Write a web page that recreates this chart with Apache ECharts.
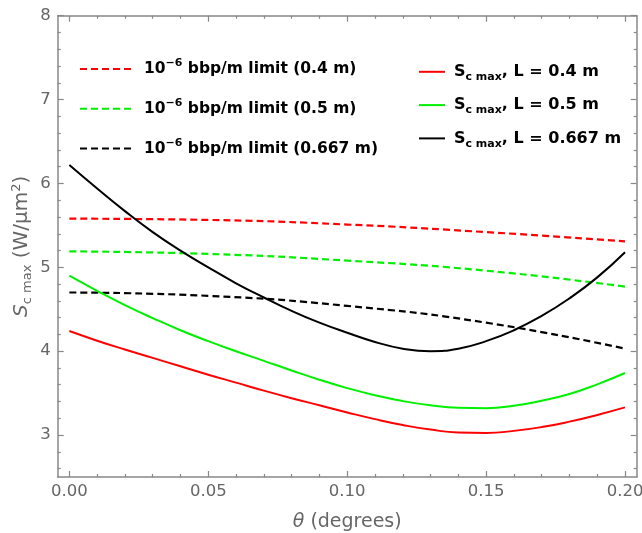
<!DOCTYPE html>
<html><head><meta charset="utf-8">
<script src="https://cdn.jsdelivr.net/npm/echarts@6/dist/echarts.min.js"></script>
<style>html,body{margin:0;padding:0;background:#fff}#c{width:642px;height:533px}</style>
</head><body><div id="c"></div>
<script>
// ---- tick labels ----
const xMajorTicks = [0, 0.05, 0.10, 0.15, 0.20];
const xMinorTicks = [0.01,0.02,0.03,0.04,0.06,0.07,0.08,0.09,0.11,0.12,0.13,0.14,0.16,0.17,0.18,0.19];
const yMajorTicks = [3, 4, 5, 6, 7, 8];
const yMinorTicks = [2.6,2.8,3.2,3.4,3.6,3.8,4.2,4.4,4.6,4.8,5.2,5.4,5.6,5.8,6.2,6.4,6.6,6.8,7.2,7.4,7.6,7.8];

// ---- data: 1e-6 bbp/m limits (dashed) ----
const limTheta   = [0, 0.05, 0.10, 0.15, 0.20];
const lim04      = [5.58, 5.565, 5.51, 5.42, 5.31];
const lim05      = [5.19, 5.16, 5.08, 4.96, 4.77];
const lim0667    = [4.70, 4.66, 4.54, 4.34, 4.03];

// ---- data: Sc max (solid), theta every 0.01 degrees ----
const scTheta = [0, 0.01, 0.02, 0.03, 0.04, 0.05, 0.06, 0.07, 0.08, 0.09, 0.10,
                 0.11, 0.12, 0.13, 0.14, 0.15, 0.16, 0.17, 0.18, 0.19, 0.20];
const sc04   = [4.24, 4.125, 4.02, 3.92, 3.82, 3.72, 3.625, 3.53, 3.44, 3.355, 3.27,
                3.19, 3.12, 3.065, 3.03, 3.025, 3.05, 3.095, 3.16, 3.24, 3.33];
const sc05   = [4.90, 4.72, 4.55, 4.395, 4.25, 4.12, 4.00, 3.885, 3.77, 3.66, 3.56,
                3.475, 3.405, 3.355, 3.325, 3.32, 3.35, 3.41, 3.49, 3.605, 3.74];
const sc0667 = [6.22, 5.94, 5.67, 5.42, 5.20, 5.00, 4.81, 4.64, 4.48, 4.34, 4.22,
                4.11, 4.03, 4.00, 4.03, 4.12, 4.25, 4.42, 4.63, 4.88, 5.18];

const X_MIN = -0.0042, X_MAX = 0.2042, Y_MIN = 2.5, Y_MAX = 8;
const FONT = 'DejaVu Sans';
const AX = '#888', LBL = '#666';
const RED = '#ff0000', GREEN = '#00f000', BLACK = '#000000';

const pairs = (xs, ys) => xs.map((x, i) => [x, ys[i]]);

const legendLabels = {
  'lim04':   '{g|\u00a0}{b|10}{sup|\u22126}{b| bbp/m limit (0.4 m)}',
  'lim05':   '{g|\u00a0}{b|10}{sup|\u22126}{b| bbp/m limit (0.5 m)}',
  'lim0667': '{g|\u00a0}{b|10}{sup|\u22126}{b| bbp/m limit (0.667 m)}',
  'sc04':    '{h|\u00a0}{b|S}{sub|c max}{b|, L = 0.4 m}',
  'sc05':    '{h|\u00a0}{b|S}{sub|c max}{b|, L = 0.5 m}',
  'sc0667':  '{h|\u00a0}{b|S}{sub|c max}{b|, L = 0.667 m}'
};
function richFor(fs) {
  return {
    g:   {width: 7, lineHeight: 22, fontSize: fs},
    h:   {width: 4, lineHeight: 22, fontSize: fs},
    b:   {fontFamily: FONT, fontWeight: 'bold', fontSize: fs, color: '#000', lineHeight: 22},
    sup: {fontFamily: FONT, fontWeight: 'bold', fontSize: 11, color: '#000', lineHeight: 11, verticalAlign: 'top'},
    sub: {fontFamily: FONT, fontWeight: 'bold', fontSize: 11, color: '#000', lineHeight: 11, verticalAlign: 'bottom'}
  };
}

function xAx(pos, ticks, len, showLine, showLabel) {
  return {
    type: 'value', min: X_MIN, max: X_MAX, position: pos,
    axisLine: {show: showLine, onZero: false, lineStyle: {color: AX, width: 1.5}},
    axisTick: {show: true, inside: true, length: len, customValues: ticks, lineStyle: {color: AX, width: 1.2}},
    axisLabel: showLabel ? {show: true, customValues: xMajorTicks, formatter: v => v.toFixed(2),
      color: LBL, fontFamily: FONT, fontSize: 16.5, margin: 6} : {show: false},
    splitLine: {show: false}
  };
}
function yAx(pos, ticks, len, showLine, showLabel) {
  return {
    type: 'value', min: Y_MIN, max: Y_MAX, position: pos,
    axisLine: {show: showLine, onZero: false, lineStyle: {color: AX, width: 1.5}},
    axisTick: {show: true, inside: true, length: len, customValues: ticks, lineStyle: {color: AX, width: 1.2}},
    axisLabel: showLabel ? {show: true, customValues: yMajorTicks, formatter: v => String(Math.round(v)),
      color: LBL, fontFamily: FONT, fontSize: 16.5, margin: 7} : {show: false},
    splitLine: {show: false}
  };
}

const xMain = xAx('bottom', xMajorTicks, 6, true, true);
xMain.name = '{th|\u03b8}{n| (degrees)}';
xMain.nameLocation = 'middle';
xMain.nameGap = 36;
xMain.nameTextStyle = {rich: {
  th: {fontFamily: FONT, fontStyle: 'italic', fontSize: 19, color: LBL},
  n:  {fontFamily: FONT, fontSize: 19, color: LBL}
}};
const yMain = yAx('left', yMajorTicks, 6, true, true);
yMain.name = '{s|S}{sub|c max}{n| (W/\u03bcm}{sup|2}{n|)}';
yMain.nameLocation = 'middle';
yMain.nameGap = 24;
yMain.nameMoveOverlap = false;
yMain.nameTextStyle = {rich: {
  s:   {fontFamily: FONT, fontStyle: 'italic', fontSize: 20, color: LBL, lineHeight: 24},
  n:   {fontFamily: FONT, fontSize: 20, color: LBL, lineHeight: 24},
  sub: {fontFamily: FONT, fontSize: 13, color: LBL, lineHeight: 13, verticalAlign: 'bottom'},
  sup: {fontFamily: FONT, fontSize: 13, color: LBL, lineHeight: 13, verticalAlign: 'top'}
}};

function line(name, xs, ys, color, dashed) {
  return {
    name, type: 'line', xAxisIndex: 0, yAxisIndex: 0, data: pairs(xs, ys),
    symbol: 'none', smooth: 0.5, silent: true,
    lineStyle: {color, width: dashed ? 2.2 : 2, type: dashed ? [7, 4] : 'solid'},
    itemStyle: {color}
  };
}

const chart = echarts.init(document.getElementById('c'), null, {renderer: 'canvas'});
chart.setOption({
  animation: false,
  backgroundColor: '#fff',
  grid: {left: 57.7, right: 5.3, top: 15.7, bottom: 56, containLabel: false, outerBoundsMode: 'none'},
  xAxis: [xMain, xAx('bottom', xMinorTicks, 3, false, false),
          xAx('top', xMajorTicks, 6, true, false), xAx('top', xMinorTicks, 3, false, false)],
  yAxis: [yMain, yAx('left', yMinorTicks, 3, false, false),
          yAx('right', yMajorTicks, 6, true, false), yAx('right', yMinorTicks, 3, false, false)],
  legend: [
    {data: ['lim04', 'lim05', 'lim0667'], orient: 'vertical', left: 79, top: 58, padding: 0,
     itemWidth: 52, itemHeight: 22, itemGap: 20, selectedMode: false,
     itemStyle: {opacity: 0},
     formatter: n => legendLabels[n], textStyle: {rich: richFor(15.5)}},
    {data: ['sc04', 'sc05', 'sc0667'], orient: 'vertical', left: 418, top: 63, padding: 0,
     itemWidth: 26, itemHeight: 22, itemGap: 13.5, selectedMode: false,
     itemStyle: {opacity: 0},
     formatter: n => legendLabels[n], textStyle: {rich: richFor(16)}}
  ],
  series: [
    line('lim04', limTheta, lim04, RED, true),
    line('lim05', limTheta, lim05, GREEN, true),
    line('lim0667', limTheta, lim0667, BLACK, true),
    line('sc04', scTheta, sc04, RED, false),
    line('sc05', scTheta, sc05, GREEN, false),
    line('sc0667', scTheta, sc0667, BLACK, false)
  ]
});
</script></body></html>
